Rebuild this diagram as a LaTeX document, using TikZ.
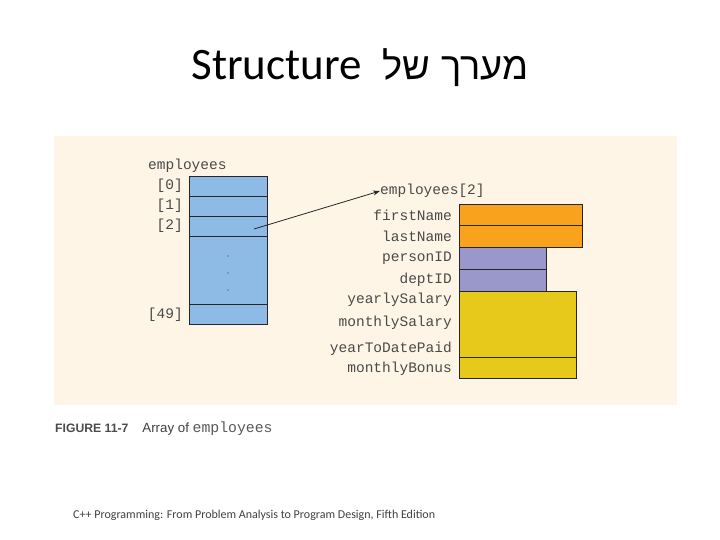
\documentclass[tikz,border=0pt]{standalone}
\usepackage{fontspec}
\setmainfont{Carlito}
\newfontfamily\hebfont[Script=Hebrew]{Liberation Sans}
\newfontfamily\codefont{Liberation Mono}
\newfontfamily\capfont{Liberation Sans}
\TeXXeTstate=1
\usetikzlibrary{arrows.meta}
\definecolor{panelbg}{HTML}{FEF5E6}
\definecolor{arrblue}{HTML}{8DBBE6}
\definecolor{fldorange}{HTML}{F8A21E}
\definecolor{fldpurple}{HTML}{9A98CA}
\definecolor{fldyellow}{HTML}{E6C91A}
\definecolor{codegray}{HTML}{4A4A4A}
\begin{document}
\begin{tikzpicture}[x=1pt,y=-1pt,
  code/.style={font=\codefont\fontsize{14.5}{15}\selectfont, text=codegray, inner sep=0pt},
  lbl/.style={code, anchor=east},
  cell/.style={draw=black!85, line width=0.7pt},
  dotmark/.style={circle, fill=black!80, inner sep=0pt, minimum size=1.3pt}]
\useasboundingbox (0,0) rectangle (720,540);
\fill[white] (0,0) rectangle (720,540);
% title
\node (title) at (360,68) {\fontsize{45}{48}\selectfont\beginR{\hebfont\fontsize{38}{46}\selectfont מערך של}\hspace{21pt}\beginL Structure\endL\endR};
% panel
\fill[panelbg] (54,136) rectangle (677,405);
% array
\node[code, anchor=west] (emp) at (148,166) {employees};
\filldraw[cell, fill=arrblue] (189,176) rectangle (267,324);
\draw[cell] (189,196) -- (267,196);
\draw[cell] (189,216) -- (267,216);
\draw[cell] (189,236) -- (267,236);
\draw[cell] (189,304) -- (267,304);
\node[lbl] (i0) at (183,186) {[0]};
\node[lbl] (i1) at (183,206) {[1]};
\node[lbl] (i2) at (183,226) {[2]};
\node[lbl] (i49) at (183,315) {[49]};
\node[dotmark] (d1) at (228,256) {};
\node[dotmark] (d2) at (228,273) {};
\node[dotmark] (d3) at (228,290) {};
% struct
\node[code, anchor=west] (e2) at (380,191) {employees[2]};
\coordinate (src) at (254,229);
\draw[-{Stealth[length=7pt,width=5pt]}, line width=0.8pt, black!85] (src) -- (e2.west);
\filldraw[cell, fill=fldorange] (459,204) rectangle (582,225);
\filldraw[cell, fill=fldorange] (459,225) rectangle (582,247);
\filldraw[cell, fill=fldpurple] (459,247) rectangle (546,269);
\filldraw[cell, fill=fldpurple] (459,269) rectangle (546,291);
\filldraw[cell, fill=fldyellow] (459,291) rectangle (576,357);
\filldraw[cell, fill=fldyellow] (459,357) rectangle (576,378);
\node[lbl] (f1) at (452,215) {firstName};
\node[lbl] (f2) at (452,236) {lastName};
\node[lbl] (f3) at (452,258) {personID};
\node[lbl] (f4) at (452,280) {deptID};
\node[lbl] (f5) at (452,300) {yearlySalary};
\node[lbl] (f6) at (452,323) {monthlySalary};
\node[lbl] (f7) at (452,349) {yearToDatePaid};
\node[lbl] (f8) at (452,369) {monthlyBonus};
% caption
\node[anchor=west, inner sep=0pt] (cap) at (55,429) {{\capfont\bfseries\fontsize{12.2}{13}\selectfont\color{black!70}FIGURE 11-7}\hspace{14pt}{\capfont\fontsize{13.3}{14}\selectfont\color{black!75}Array of }{\codefont\fontsize{14.8}{15}\selectfont\color{black!65}employees}};
% footer
\node[anchor=west, inner sep=0pt] (foot) at (73,515) {\fontsize{12}{13}\selectfont\color{black!75}C++ Programming: From Problem Analysis to Program Design, Fifth Edition};
\end{tikzpicture}
\end{document}
